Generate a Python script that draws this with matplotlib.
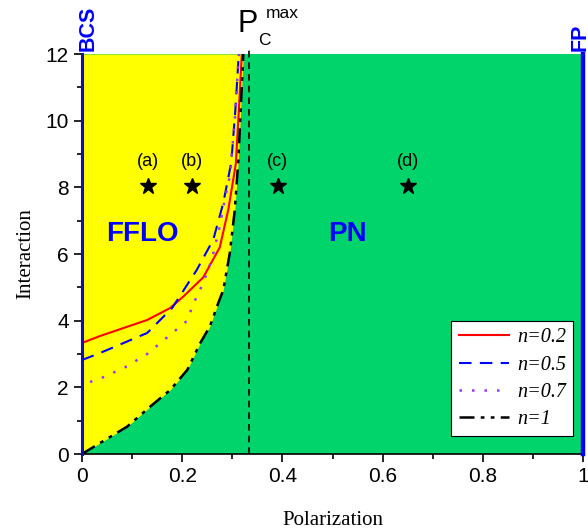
import matplotlib
matplotlib.use("Agg")
import matplotlib.pyplot as plt
from matplotlib.ticker import MultipleLocator

# ---------------- data ----------------
P_n1 = [0, 0.036, 0.09, 0.136, 0.176, 0.21, 0.236, 0.255, 0.272, 0.282, 0.295, 0.305, 0.312, 0.317, 0.322]
U_n1 = [0, 0.33, 0.82, 1.42, 1.92, 2.52, 3.33, 3.82, 4.53, 4.92, 6.03, 7.33, 8.8, 10.4, 12]

P_n02 = [0, 0.036, 0.13, 0.176, 0.202, 0.242, 0.275, 0.292, 0.307, 0.313, 0.319]
U_n02 = [3.33, 3.54, 4.02, 4.38, 4.72, 5.3, 6.2, 7.33, 8.7, 10.3, 12]

P_n05 = [0, 0.036, 0.13, 0.18, 0.229, 0.262, 0.282, 0.298, 0.306, 0.313]
U_n05 = [2.82, 3.03, 3.63, 4.38, 5.52, 6.43, 7.53, 8.75, 10.3, 12]

P_n07 = [0.016, 0.042, 0.086, 0.13, 0.17, 0.21, 0.222, 0.242, 0.259, 0.275, 0.285, 0.295, 0.305, 0.313]
U_n07 = [2.16, 2.3, 2.6, 3.0, 3.5, 4.0, 4.5, 5.13, 5.83, 6.83, 7.63, 8.33, 10.0, 12]

P_cmax = 1.0 / 3.0
star_P = [0.132, 0.22, 0.391, 0.65]
star_U = [8.05, 8.05, 8.05, 8.05]
star_labels = ["(a)", "(b)", "(c)", "(d)"]
legend_labels = ["n=0.2", "n=0.5", "n=0.7", "n=1"]

# ---------------- figure ----------------
fig = plt.figure(figsize=(5.88, 5.29), dpi=100)
ax = fig.add_axes([82 / 588, 1 - 454 / 529, 501 / 588, 400 / 529])

GREEN = "#00D46A"
YELLOW = "#FFFF00"
ax.set_facecolor(GREEN)
ax.fill_betweenx(U_n1, 0, P_n1, color=YELLOW, lw=0, zorder=1)

ax.set_xlim(0, 1)
ax.set_ylim(0, 12)

l1, = ax.plot(P_n02, U_n02, color="red", lw=1.5, zorder=4)
l2, = ax.plot(P_n05, U_n05, color="blue", lw=1.5, ls=(0, (6, 4)), zorder=4)
l3, = ax.plot(P_n07, U_n07, color="#9933FF", lw=1.8, ls=(0, (1, 4)), zorder=4)
l4, = ax.plot(P_n1, U_n1, color="black", lw=1.8, ls=(0, (6, 2.5, 1.5, 2.5, 1.5, 2.5)), zorder=5)

ax.plot([P_cmax, P_cmax], [0, 12.15], color="black", lw=1.2, ls=(0, (4, 3)), zorder=3, clip_on=False)

# boundary lines BCS / FP
ax.plot([0, 0], [0, 12], color="#1010B0", lw=2.2, zorder=6, clip_on=False)
ax.plot([1, 1], [0, 12], color="#0000FF", lw=3.2, zorder=6, clip_on=False)

# stars and labels
ax.plot(star_P, star_U, ls="none", marker="*", color="black", ms=12, zorder=6)
for p, lab in zip(star_P, star_labels):
    ax.text(p, 8.77, lab, ha="center", va="center", fontsize=13,
            family="Liberation Sans", zorder=6)

ax.text(0.12, 6.6, "FFLO", color="blue", fontsize=20, fontweight="bold",
        family="Liberation Sans", ha="center", va="center", zorder=6)
ax.text(0.53, 6.6, "PN", color="blue", fontsize=20, fontweight="bold",
        family="Liberation Sans", ha="center", va="center", zorder=6)

# BCS / FP labels above axes
ax.text(0.012, 12.1, "BCS", color="blue", fontsize=15.5, fontweight="bold", rotation=90,
        family="Liberation Sans", ha="center", va="bottom", clip_on=False)
ax.text(0.995, 12.1, "FP", color="blue", fontsize=15.5, fontweight="bold", rotation=90,
        family="Liberation Sans", ha="center", va="bottom", clip_on=False)

# P_C^max label (pixel positions)
def px(x, y):
    return (x / 588, 1 - y / 529)
fig.text(*px(248, 24), "P", fontsize=22, family="Liberation Sans", ha="center", va="center")
fig.text(*px(266, 13), "max", fontsize=12.5, family="Liberation Sans", ha="left", va="center")
fig.text(*px(258, 40), "C", fontsize=12.5, family="Liberation Sans", ha="left", va="center")

# spines and ticks
for s in ["top", "right", "left"]:
    ax.spines[s].set_visible(False)
ax.spines["bottom"].set_linewidth(1.2)
ax.tick_params(which="both", direction="out", top=False, right=False,
               labelsize=15, width=1.2)
ax.tick_params(which="major", length=6)
ax.tick_params(which="minor", length=3.5)
ax.xaxis.set_minor_locator(MultipleLocator(0.1))
ax.yaxis.set_major_locator(MultipleLocator(2))
ax.yaxis.set_minor_locator(MultipleLocator(1))
ax.set_xticks([0, 0.2, 0.4, 0.6, 0.8, 1.0])
ax.set_xticklabels(["0", "0.2", "0.4", "0.6", "0.8", "1"])
for lab in ax.get_xticklabels() + ax.get_yticklabels():
    lab.set_family("Liberation Sans")

ax.set_xlabel("Polarization", fontsize=15, family="Liberation Serif", labelpad=18)
ax.set_ylabel("Interaction", fontsize=15, family="Liberation Serif", labelpad=7)

leg = ax.legend([l1, l2, l3, l4], legend_labels, loc="lower right",
                bbox_to_anchor=(0.98, 0.045), borderaxespad=0, fancybox=False,
                framealpha=1, edgecolor="black", handlelength=2.5,
                prop={"family": "Liberation Serif", "style": "italic", "size": 14.5},
                labelspacing=0.4, handletextpad=0.4, borderpad=0.35)
leg.get_frame().set_linewidth(0.8)
leg.set_zorder(10)

fig.savefig("out.png", dpi=100)
